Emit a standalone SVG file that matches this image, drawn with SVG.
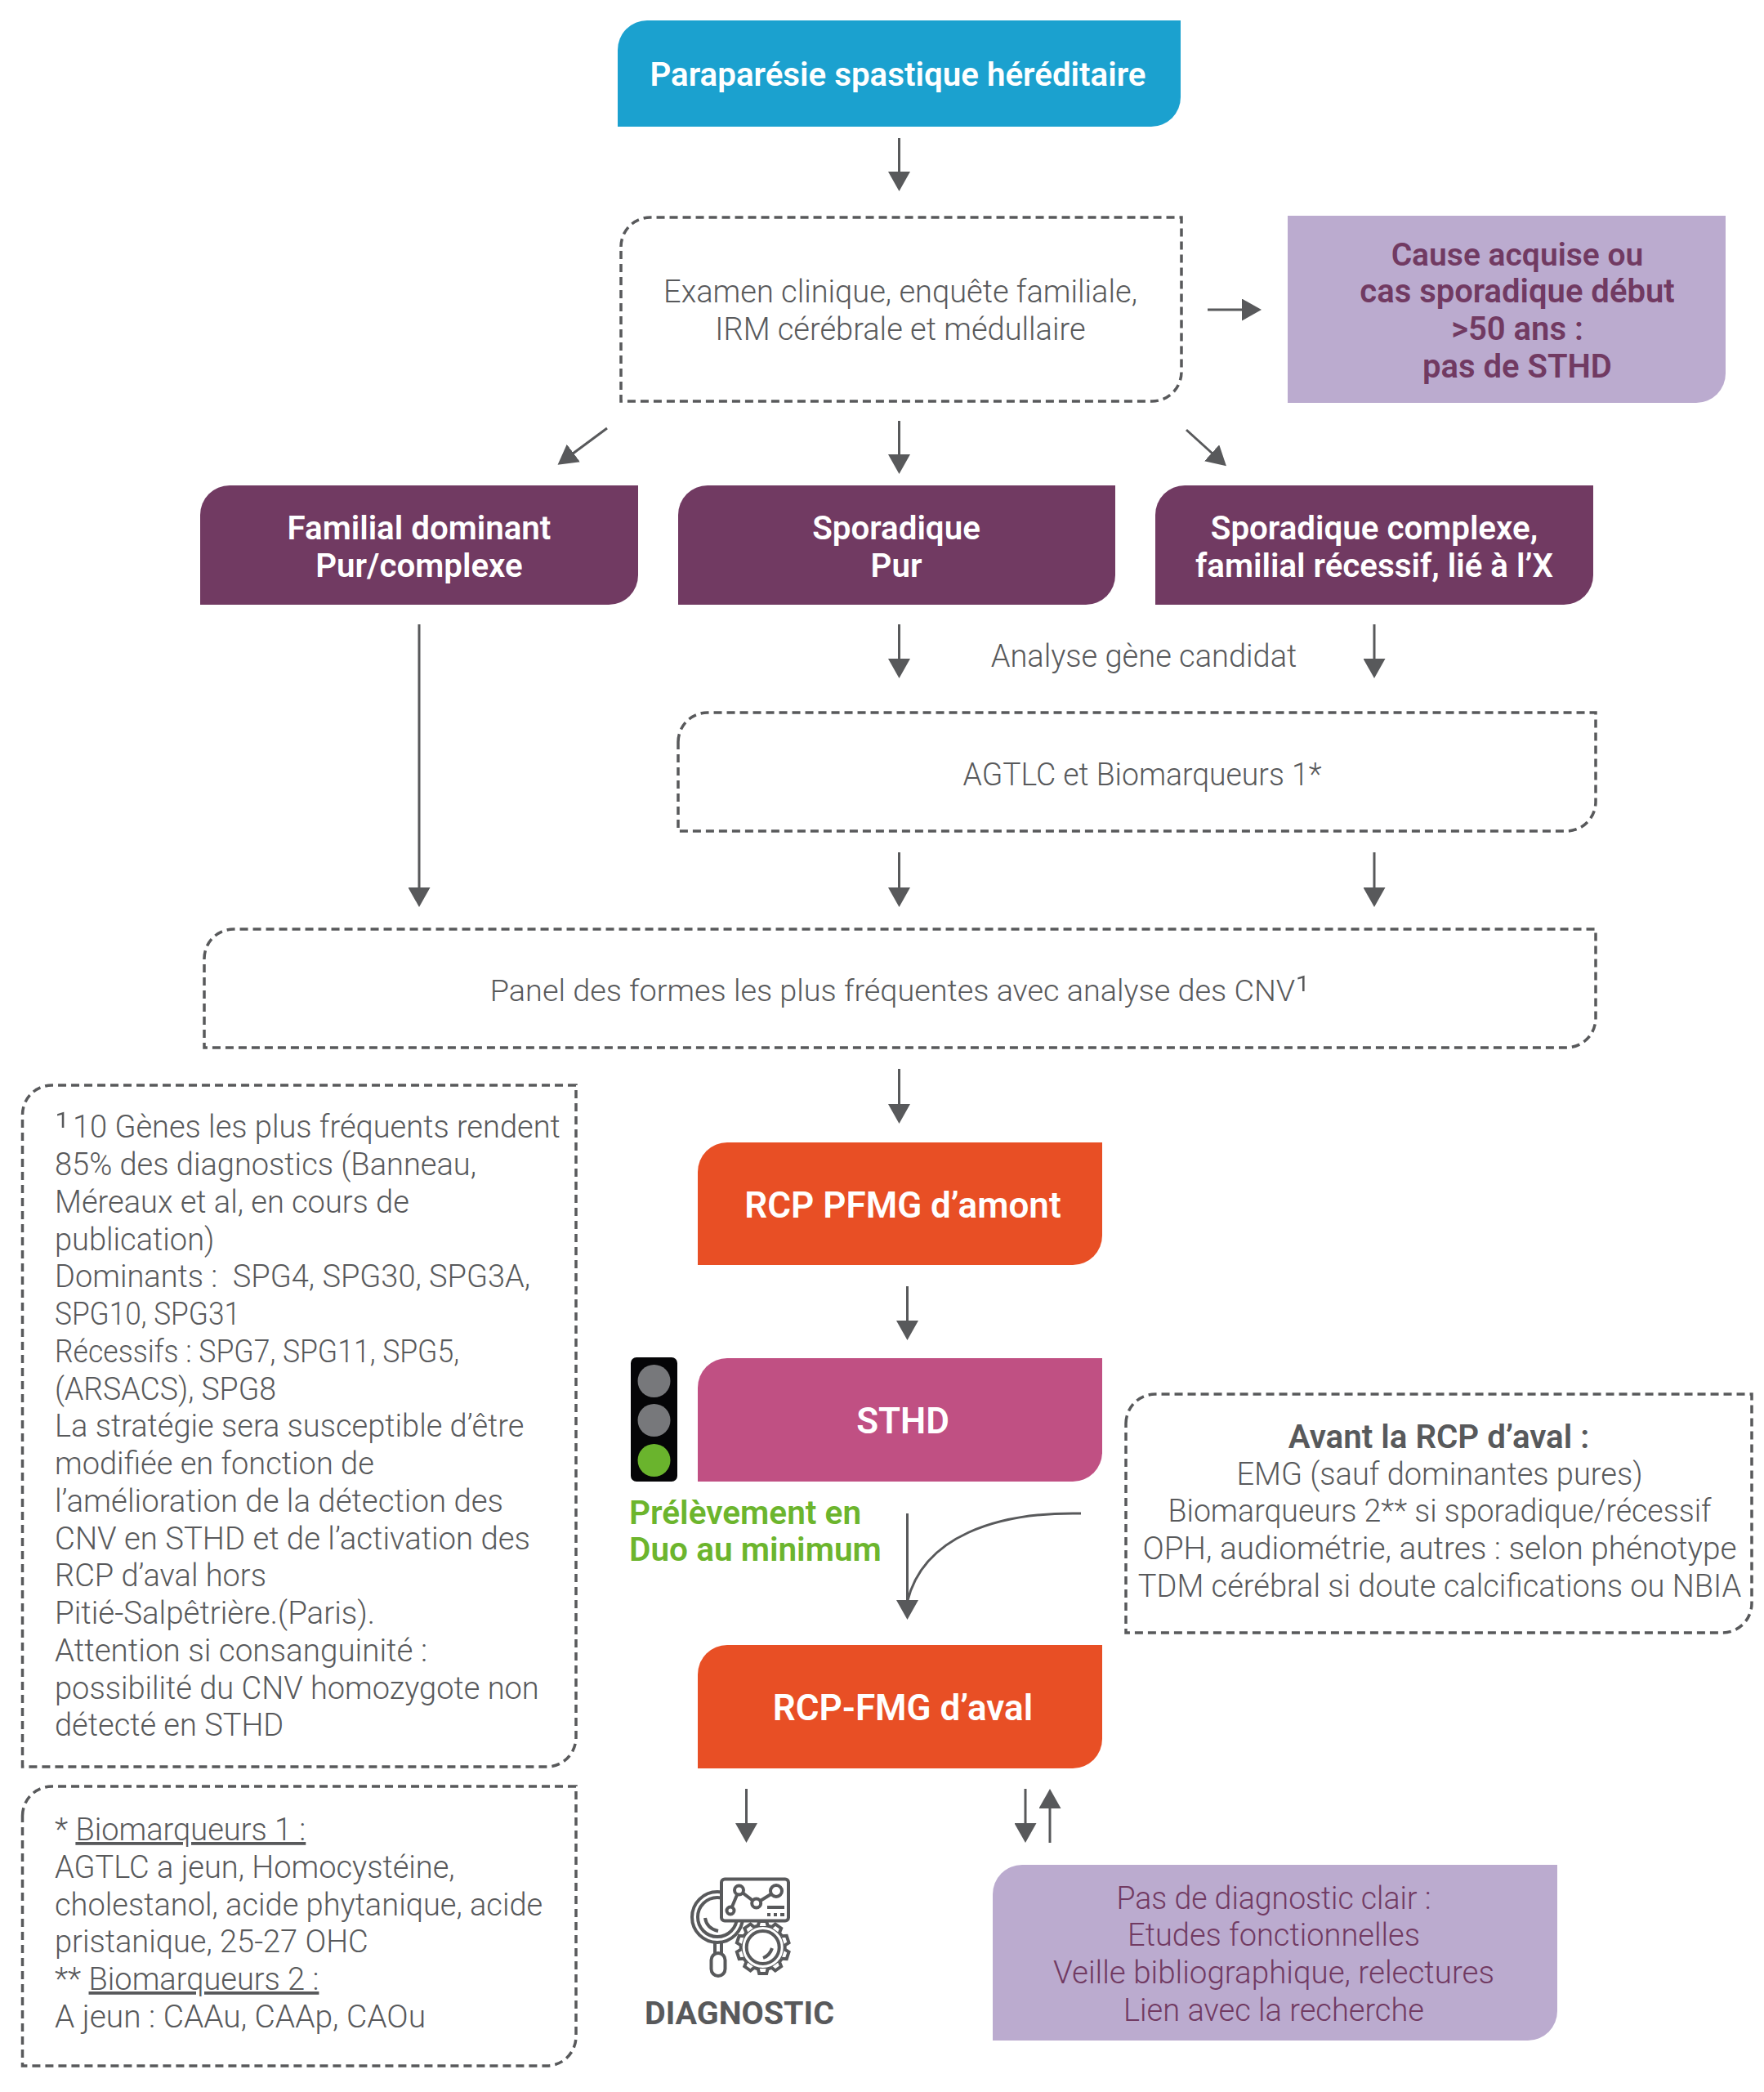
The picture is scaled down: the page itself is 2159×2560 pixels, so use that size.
<svg xmlns="http://www.w3.org/2000/svg" width="2159" height="2560" viewBox="0 0 2159 2560">
<style>
text{font-family:Roboto,"Liberation Sans",sans-serif;font-size:38px;font-weight:300;fill:#58595b;white-space:pre}
.m{text-anchor:middle}
.w{fill:#fff;font-weight:600;font-size:40.300px}
.b{fill:#fff;font-weight:600;font-size:44px}
.p{fill:#713a62;font-weight:600;font-size:40px}
.l{fill:#713a62}
.g{fill:#6cb52d;font-weight:600;font-size:40.600px}
.h{font-weight:600;font-size:40.300px}
.s{font-size:50px}
.d{fill:none;stroke:#58595b;stroke-width:3.500;stroke-dasharray:10 6}
.c{fill:none;stroke:#58595b;stroke-width:3}
.i{fill:none;stroke:#58595b;stroke-width:4}
.f{fill:#fff;stroke:#58595b;stroke-width:4}
.u{text-decoration:underline}
</style>
<defs>
<marker id="a" markerUnits="userSpaceOnUse" markerWidth="27" markerHeight="27" refX="16" refY="13.500" orient="auto"><path d="M0 0L24 13.500L0 27Z" fill="#58595b"/></marker>
<path id="t" class="f" d="M-6 -26L-4.500 -32H4.500L6 -26"/>
</defs>
<rect width="2159" height="2560" fill="#fff"/>
<g id="connectors">
<path class="c" marker-end="url(#a)" d="M1100.500 169V226"/>
<path class="c" marker-end="url(#a)" d="M1478 379H1536"/>
<path class="c" marker-end="url(#a)" d="M743 524L689 564"/>
<path class="c" marker-end="url(#a)" d="M1452 526L1495 565"/>
<path class="c" marker-end="url(#a)" d="M1100.500 515V572"/>
<path class="c" marker-end="url(#a)" d="M513 764V1102"/>
<path class="c" marker-end="url(#a)" d="M1100.500 764V822"/>
<path class="c" marker-end="url(#a)" d="M1682 764V822"/>
<path class="c" marker-end="url(#a)" d="M1100.500 1043V1102"/>
<path class="c" marker-end="url(#a)" d="M1682 1043V1102"/>
<path class="c" marker-end="url(#a)" d="M1100.500 1308V1367"/>
<path class="c" marker-end="url(#a)" d="M1110.500 1574V1632"/>
<path class="c" marker-end="url(#a)" d="M1110.500 1852V1974"/>
<path class="c" d="M1323 1852C1220 1850 1130 1880 1110.500 1960"/>
<path class="c" marker-end="url(#a)" d="M913.500 2189V2247"/>
<path class="c" marker-end="url(#a)" d="M1255 2189V2247"/>
<path class="c" marker-end="url(#a)" d="M1285 2255V2197"/>
</g>
<g id="n-hsp"><path fill="#1ba1cf" d="M756 61A36 36 0 0 1 792 25H1445V119A36 36 0 0 1 1409 155H756Z"/><text class="w m" x="1099" y="104.500">Paraparésie spastique héréditaire</text></g>
<g id="n-examen"><path class="d" d="M760 302A36 36 0 0 1 796 266H1446V455A36 36 0 0 1 1410 491H760Z"/><text class="m" x="1102" y="370">Examen clinique, enquête familiale,</text><text class="m" x="1102" y="416">IRM cérébrale et médullaire</text></g>
<g id="n-cause"><path fill="#bbabcf" d="M1576 264H2112V457A36 36 0 0 1 2076 493H1576Z"/><text class="p m" x="1857" y="325" style="font-size:39px">Cause acquise ou</text><text class="p m" x="1857" y="370">cas sporadique début</text><text class="p m" x="1857" y="416">&gt;50 ans :</text><text class="p m" x="1857" y="462">pas de STHD</text></g>
<g id="n-familial"><path fill="#713a62" d="M245 630A36 36 0 0 1 281 594H781V704A36 36 0 0 1 745 740H245Z"/><text class="w m" x="513" y="660">Familial dominant</text><text class="w m" x="513" y="706">Pur/complexe</text></g>
<g id="n-sporadique"><path fill="#713a62" d="M830 630A36 36 0 0 1 866 594H1365V704A36 36 0 0 1 1329 740H830Z"/><text class="w m" x="1097" y="660">Sporadique</text><text class="w m" x="1097" y="706">Pur</text></g>
<g id="n-complexe"><path fill="#713a62" d="M1414 630A36 36 0 0 1 1450 594H1950V704A36 36 0 0 1 1914 740H1414Z"/><text class="w m" x="1682" y="660">Sporadique complexe,</text><text class="w m" x="1682" y="706">familial récessif, lié à l’X</text></g>
<g id="n-analyse"><text class="m" x="1400" y="816">Analyse gène candidat</text></g>
<g id="n-agtlc"><path class="d" d="M830 908A36 36 0 0 1 866 872H1953V981A36 36 0 0 1 1917 1017H830Z"/><text class="m" x="1398" y="961" textLength="439" lengthAdjust="spacingAndGlyphs">AGTLC et Biomarqueurs 1*</text></g>
<g id="n-panel"><path class="d" d="M250 1173A36 36 0 0 1 286 1137H1953V1246A36 36 0 0 1 1917 1282H250Z"/><text class="m" x="1101.500" y="1225" style="font-size:37.800px">Panel des formes les plus fréquentes avec analyse des CNV<tspan class="s" dy="4">¹</tspan></text></g>
<g id="n-rcp-amont"><path fill="#e84f25" d="M854 1434A36 36 0 0 1 890 1398H1349V1512A36 36 0 0 1 1313 1548H854Z"/><text class="b m" x="1105" y="1490">RCP PFMG d’amont</text></g>
<g id="n-sthd"><path fill="#c05083" d="M854 1698A36 36 0 0 1 890 1662H1349V1777A36 36 0 0 1 1313 1813H854Z"/><text class="b m" x="1105" y="1754">STHD</text></g>
<g id="n-feu"><rect x="772" y="1661" width="57" height="152" rx="7" fill="#050507"/><circle cx="800.500" cy="1690" r="20" fill="#77787b"/><circle cx="800.500" cy="1738" r="20" fill="#77787b"/><circle cx="800.500" cy="1787" r="20" fill="#6ab42d"/><text class="g" x="770" y="1865">Prélèvement en</text><text class="g" x="770" y="1910">Duo au minimum</text></g>
<g id="n-avant"><path class="d" d="M1378 1742A36 36 0 0 1 1414 1706H2144V1962A36 36 0 0 1 2108 1998H1378Z"/><text class="h m" x="1761" y="1771.500">Avant la RCP d’aval :</text><text class="m" x="1762" y="1816.500">EMG (sauf dominantes pures)</text><text class="m" x="1762" y="1861.500" textLength="665" lengthAdjust="spacingAndGlyphs">Biomarqueurs 2** si sporadique/récessif</text><text class="m" x="1762" y="1907.500" textLength="727" lengthAdjust="spacingAndGlyphs">OPH, audiométrie, autres : selon phénotype</text><text class="m" x="1762" y="1953.500">TDM cérébral si doute calcifications ou NBIA</text></g>
<g id="n-rcp-aval"><path fill="#e84f25" d="M854 2049A36 36 0 0 1 890 2013H1349V2128A36 36 0 0 1 1313 2164H854Z"/><text class="b m" x="1105" y="2105">RCP-FMG d’aval</text></g>
<g id="n-note1"><path class="d" d="M27.500 1364A36 36 0 0 1 63.500 1328H705V2126A36 36 0 0 1 669 2162H27.500Z"/>
<text x="67" y="1392"><tspan class="s" dy="4">¹</tspan><tspan x="89" dy="-4">10 Gènes les plus fréquents rendent</tspan></text>
<text x="67" y="1438">85% des diagnostics (Banneau,</text>
<text x="67" y="1484">Méreaux et al, en cours de</text>
<text x="67" y="1530">publication)</text>
<text x="67" y="1575">Dominants :  SPG4, SPG30, SPG3A,</text>
<text x="67" y="1621" textLength="227" lengthAdjust="spacingAndGlyphs">SPG10, SPG31</text>
<text x="67" y="1667" textLength="495" lengthAdjust="spacingAndGlyphs">Récessifs : SPG7, SPG11, SPG5,</text>
<text x="67" y="1713" textLength="271" lengthAdjust="spacingAndGlyphs">(ARSACS), SPG8</text>
<text x="67" y="1758">La stratégie sera susceptible d’être</text>
<text x="67" y="1804">modifiée en fonction de</text>
<text x="67" y="1850" textLength="549" lengthAdjust="spacingAndGlyphs">l’amélioration de la détection des</text>
<text x="67" y="1896" textLength="582" lengthAdjust="spacingAndGlyphs">CNV en STHD et de l’activation des</text>
<text x="67" y="1941">RCP d’aval hors</text>
<text x="67" y="1987" textLength="392" lengthAdjust="spacingAndGlyphs">Pitié-Salpêtrière.(Paris).</text>
<text x="67" y="2033" textLength="456" lengthAdjust="spacingAndGlyphs">Attention si consanguinité :</text>
<text x="67" y="2079">possibilité du CNV homozygote non</text>
<text x="67" y="2124">détecté en STHD</text></g>
<g id="n-note2"><path class="d" d="M27.500 2222A36 36 0 0 1 63.500 2186H705V2492A36 36 0 0 1 669 2528H27.500Z"/>
<text x="67" y="2252">* <tspan class="u">Biomarqueurs 1 :</tspan></text>
<text x="67" y="2298">AGTLC a jeun, Homocystéine,</text>
<text x="67" y="2344">cholestanol, acide phytanique, acide</text>
<text x="67" y="2389">pristanique, 25-27 OHC</text>
<text x="67" y="2435">** <tspan class="u">Biomarqueurs 2 :</tspan></text>
<text x="67" y="2481" textLength="454" lengthAdjust="spacingAndGlyphs">A jeun : CAAu, CAAp, CAOu</text></g>
<g id="n-diagnostic">
<circle class="i" cx="878" cy="2346" r="31"/><circle class="i" cx="878" cy="2346" r="24"/>
<path class="i" d="M863 2347Q865 2360 879 2363M875 2378V2390M883 2378V2390"/>
<rect class="i" x="870.500" y="2390" width="17" height="28" rx="8.500"/>
<circle class="f" cx="933.700" cy="2383" r="27"/>
<use href="#t" transform="translate(933.700 2383)"/><use href="#t" transform="translate(933.700 2383) rotate(36)"/><use href="#t" transform="translate(933.700 2383) rotate(72)"/><use href="#t" transform="translate(933.700 2383) rotate(108)"/><use href="#t" transform="translate(933.700 2383) rotate(144)"/><use href="#t" transform="translate(933.700 2383) rotate(180)"/><use href="#t" transform="translate(933.700 2383) rotate(216)"/><use href="#t" transform="translate(933.700 2383) rotate(252)"/><use href="#t" transform="translate(933.700 2383) rotate(288)"/><use href="#t" transform="translate(933.700 2383) rotate(324)"/>
<circle class="i" cx="933.700" cy="2383" r="20"/>
<path class="i" d="M934 2396Q942 2393 945 2384"/>
<rect class="f" x="883" y="2299.500" width="82" height="51" rx="4"/>
<path class="i" d="M894 2338L904.500 2313L925.700 2329L950 2314"/>
<circle class="f" cx="894" cy="2338" r="4.500"/><circle class="f" cx="904.500" cy="2313" r="5.500"/><circle class="f" cx="925.700" cy="2329" r="5.500"/><circle class="f" cx="950" cy="2314" r="7"/>
<path class="i" d="M939 2334H960M939 2343H943M947 2343H951M955 2343H960"/>
<text x="905" y="2477" class="m" style="font-weight:700;font-size:39.500px">DIAGNOSTIC</text></g>
<g id="n-pas"><path fill="#bbabcf" d="M1215 2318A36 36 0 0 1 1251 2282H1906V2461A36 36 0 0 1 1870 2497H1215Z"/><text class="l m" x="1559" y="2335.500" textLength="385" lengthAdjust="spacingAndGlyphs">Pas de diagnostic clair :</text><text class="l m" x="1559" y="2380.500">Etudes fonctionnelles</text><text class="l m" x="1559" y="2426.500" textLength="540" lengthAdjust="spacingAndGlyphs">Veille bibliographique, relectures</text><text class="l m" x="1559" y="2472.500">Lien avec la recherche</text></g>
</svg>
